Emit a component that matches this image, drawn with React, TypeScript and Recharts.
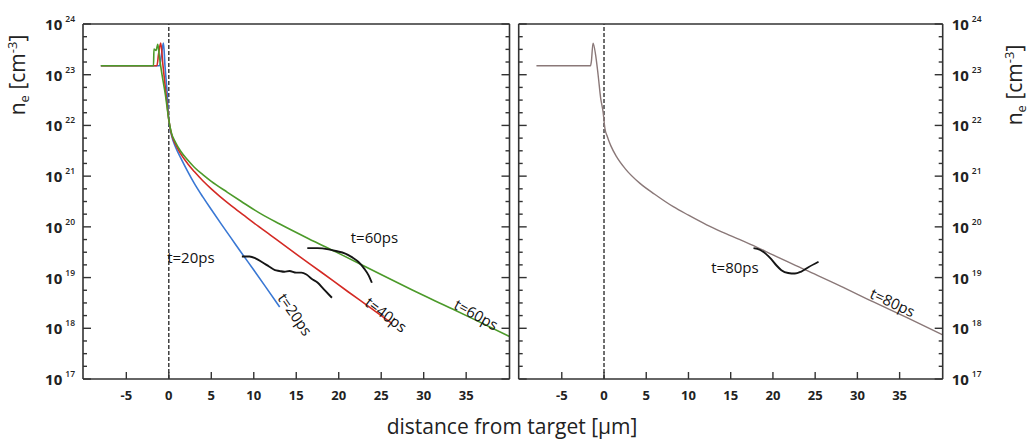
import React from 'react';
import { LineChart, Line, XAxis, YAxis, ReferenceLine, ReferenceDot } from 'recharts';

const X_TICKS = [-5, 0, 5, 10, 15, 20, 25, 30, 35];
const DECADES = [17, 18, 19, 20, 21, 22, 23, 24];
const MINOR_STEPS = [1.78, 3.16, 5.62];

// left panel, t = 20 ps (blue)
const blueX = [-8, -1.1, -0.85, -0.63, -0.45, -0.2, 0, 0.3, 0.8, 1.4, 2.2, 3.0, 4.0, 5.0, 6.2, 7.34, 8.5, 10.0, 11.5, 13.05];
const blueN = [1.5e23, 1.5e23, 2.6e23, 4.2e23, 1.5e23, 4.5e22, 1.29e22, 6.6e21, 3.7e21, 2.3e21, 1.26e21, 7.2e20, 3.9e20, 2.2e20, 1.12e20, 6.0e19, 3.16e19, 1.41e19, 6.2e18, 2.63e18];

// left panel, t = 40 ps (red)
const redX = [-8, -1.4, -1.2, -0.95, -0.7, -0.35, 0, 0.3, 0.8, 1.4, 2.2, 3.0, 4.0, 5.0, 6.0, 7.34, 8.9, 10.0, 12.0, 15.2, 18.0, 21.1, 23.5, 26.3];
const redN = [1.5e23, 1.5e23, 2.6e23, 4.2e23, 1.6e23, 4.5e22, 1.29e22, 6.9e21, 4.2e21, 2.75e21, 1.78e21, 1.23e21, 8.1e20, 5.6e20, 4.0e20, 2.63e20, 1.66e20, 1.2e20, 6.8e19, 2.75e19, 1.26e19, 5.25e18, 2.7e18, 1.23e18];

// left panel, t = 60 ps (green)
const greenX = [-8, -1.8, -1.75, -1.5, -1.3, -1.1, -0.8, -0.4, 0, 0.3, 0.8, 1.4, 2.2, 3.0, 4.0, 5.0, 6.9, 8.5, 10.9, 13.0, 16.4, 20.0, 23.1, 25.1, 28.6, 33.0, 36.0, 40.1];
const greenN = [1.5e23, 1.5e23, 3.2e23, 3.0e23, 4.0e23, 2.2e23, 1.0e23, 4.0e22, 1.29e22, 7.2e21, 4.6e21, 3.1e21, 2.1e21, 1.5e21, 1.07e21, 7.9e20, 4.8e20, 3.2e20, 1.78e20, 1.15e20, 5.9e19, 3.0e19, 1.66e19, 1.12e19, 5.75e18, 2.57e18, 1.48e18, 6.9e17];

// right panel, t = 80 ps
const grayX = [-8, -1.6, -1.5, -1.3, -1.0, -0.7, -0.4, -0.1, 0.1, 0.4, 0.8, 1.5, 2.5, 4.26, 6.0, 8.2, 10.0, 12.15, 14.0, 16.1, 18.07, 20.0, 24.0, 28.0, 31.9, 36.0, 40.1];
const grayN = [1.5e23, 1.5e23, 1.8e23, 4.2e23, 2.5e23, 1.0e23, 3.5e22, 1.8e22, 8.9e21, 6.0e21, 4.0e21, 2.4e21, 1.41e21, 7.2e20, 4.4e20, 2.5e20, 1.7e20, 1.1e20, 7.9e19, 5.6e19, 4.0e19, 2.8e19, 1.38e19, 6.8e18, 3.3e18, 1.58e18, 7.4e17];

// measured profiles (black)
const meas20X = [8.6, 9.5, 10.2, 11.0, 11.8, 12.5, 13.0, 13.6, 14.2, 15.0, 15.6, 16.2, 16.8, 17.5, 18.2, 19.2];
const meas20N = [2.6e19, 2.6e19, 2.4e19, 2.0e19, 1.65e19, 1.4e19, 1.35e19, 1.3e19, 1.35e19, 1.25e19, 1.25e19, 1.15e19, 9.5e18, 8e18, 6e18, 4e18];
const meas60X = [16.3, 17.5, 18.8, 19.8, 20.7, 21.6, 22.3, 23.0, 23.5, 23.9];
const meas60N = [3.8e19, 3.8e19, 3.6e19, 3.3e19, 3.0e19, 2.5e19, 2.05e19, 1.5e19, 1.12e19, 7.9e18];
const meas80X = [17.7, 18.5, 19.2, 19.8, 20.4, 21.0, 21.8, 22.6, 23.3, 24.2, 25.4];
const meas80N = [3.8e19, 3.5e19, 2.9e19, 2.3e19, 1.75e19, 1.4e19, 1.23e19, 1.2e19, 1.3e19, 1.6e19, 2.05e19];

// annotations: text, x, n, angle
const leftNotes: [string, number, number, number][] = [
  ['t=20ps', 2.6, 2.6e19, 0],
  ['t=60ps', 24.2, 6.3e19, 0],
  ['t=20ps', 14.9, 1.9e18, 55],
  ['t=40ps', 25.6, 1.9e18, 37],
  ['t=60ps', 36.2, 1.9e18, 29],
];
const rightNotes: [string, number, number, number][] = [
  ['t=80ps', 15.5, 1.6e19, 0],
  ['t=80ps', 34.2, 3.3e18, 25],
];

const toData = (xs: number[], ns: number[]) => xs.map((x, i) => ({ x, n: ns[i] }));

const Y_TICKS: number[] = [];
DECADES.forEach((d) => {
  Y_TICKS.push(Math.pow(10, d));
  if (d < 24) MINOR_STEPS.forEach((m) => Y_TICKS.push(m * Math.pow(10, d)));
});

const X_DOMAIN = [-10.1, 40.1];
const Y_DOMAIN = [1e17, 1e24];
const FRAME = '#333';
const FONT = '"Open Sans", "DejaVu Sans", sans-serif';

const YTick = (props: any) => {
  const { x, y, payload, side, showLabel } = props;
  const lg = Math.log10(payload.value);
  const e = Math.round(lg);
  const major = Math.abs(lg - e) < 0.01;
  const dir = side === 'left' ? 1 : -1;
  const len = major ? 8 : 4;
  return (
    <g>
      <line x1={x} x2={x + dir * len} y1={y} y2={y} stroke={FRAME} strokeWidth={1.4} />
      {major && showLabel && (
        <text
          x={side === 'left' ? x - 8 : x + 9}
          y={y + 6}
          textAnchor={side === 'left' ? 'end' : 'start'}
          fontSize={15}
          fontWeight={700}
          fill="#222"
          fontFamily={FONT}
        >
          10
          <tspan dx={3} dy={-8} fontSize={8.5} fontWeight={600}>
            {e}
          </tspan>
        </text>
      )}
    </g>
  );
};

const XTick = (props: any) => {
  const { x, y, payload, side, showLabel } = props;
  const dir = side === 'bottom' ? -1 : 1;
  return (
    <g>
      <line x1={x} x2={x} y1={y} y2={y + dir * 7} stroke={FRAME} strokeWidth={1.4} />
      {showLabel && (
        <text x={x} y={y + 21} textAnchor="middle" fontSize={13} fontWeight={700} fill="#222" fontFamily={FONT}>
          {payload.value}
        </text>
      )}
    </g>
  );
};

const noteLabel = (text: string, angle: number) => (p: any) => {
  const vb = p.viewBox || {};
  const cx = vb.x + vb.width / 2;
  const cy = vb.y + vb.height / 2;
  return (
    <text
      x={cx}
      y={cy}
      textAnchor="middle"
      dominantBaseline="central"
      transform={`rotate(${angle} ${cx} ${cy})`}
      fontSize={15}
      fontWeight={500}
      fill="#111"
      fontFamily={FONT}
    >
      {text}
    </text>
  );
};

const Panel = ({ width, margin, labelSide, children, notes }: any) => (
  <LineChart width={width} height={444} margin={margin}>
    <XAxis
      xAxisId="b"
      type="number"
      dataKey="x"
      domain={X_DOMAIN}
      allowDataOverflow
      ticks={X_TICKS}
      interval={0}
      height={1}
      tickSize={0}
      tickMargin={0}
      tickLine={false}
      axisLine={{ stroke: FRAME, strokeWidth: 1.6 }}
      tick={<XTick side="bottom" showLabel />}
    />
    <XAxis
      xAxisId="t"
      orientation="top"
      type="number"
      domain={X_DOMAIN}
      allowDataOverflow
      ticks={X_TICKS}
      interval={0}
      height={1}
      tickSize={0}
      tickMargin={0}
      tickLine={false}
      axisLine={{ stroke: FRAME, strokeWidth: 1.6 }}
      tick={<XTick side="top" />}
    />
    <YAxis
      yAxisId="l"
      scale="log"
      domain={Y_DOMAIN}
      allowDataOverflow
      ticks={Y_TICKS}
      interval={0}
      width={1}
      tickSize={0}
      tickMargin={0}
      tickLine={false}
      axisLine={{ stroke: FRAME, strokeWidth: 1.6 }}
      tick={<YTick side="left" showLabel={labelSide === 'left'} />}
    />
    <YAxis
      yAxisId="r"
      orientation="right"
      scale="log"
      domain={Y_DOMAIN}
      allowDataOverflow
      ticks={Y_TICKS}
      interval={0}
      width={1}
      tickSize={0}
      tickMargin={0}
      tickLine={false}
      axisLine={{ stroke: FRAME, strokeWidth: 1.6 }}
      tick={<YTick side="right" showLabel={labelSide === 'right'} />}
    />
    <ReferenceLine xAxisId="b" yAxisId="l" x={0} stroke="#222" strokeWidth={1.3} strokeDasharray="4 2" />
    {children}
    {notes.map(([text, x, n, angle]: any, i: number) => (
      <ReferenceDot
        key={i}
        xAxisId="b"
        yAxisId="l"
        x={x}
        y={n}
        r={1}
        fill="none"
        stroke="none"
        label={noteLabel(text, angle)}
      />
    ))}
  </LineChart>
);

const series = (key: string, xs: number[], ns: number[], color: string, w: number) => (
  <Line
    key={key}
    xAxisId="b"
    yAxisId="l"
    data={toData(xs, ns)}
    dataKey="n"
    type="monotone"
    stroke={color}
    strokeWidth={w}
    dot={false}
    isAnimationActive={false}
  />
);

const YTitle = ({ x, y }: { x: number; y: number }) => (
  <text transform={`translate(${x},${y}) rotate(-90)`} textAnchor="middle" fontSize={21} fill="#222" fontFamily={FONT}>
    n<tspan dy={4} fontSize={13}>e</tspan>
    <tspan dy={-4}> [cm</tspan>
    <tspan dy={-8} fontSize={13}>-3</tspan>
    <tspan dy={8}>]</tspan>
  </text>
);

export default function App() {
  return (
    <div style={{ position: 'absolute', left: 0, top: 0, width: 1035, height: 444, background: '#fff', fontFamily: FONT }}>
      <div style={{ position: 'absolute', left: 0, top: 0 }}>
        <Panel width={520} margin={{ top: 23, left: 82, right: 9.5, bottom: 64 }} labelSide="left" notes={leftNotes}>
          {series('blue', blueX, blueN, '#3a78d4', 1.6)}
          {series('red', redX, redN, '#d42a24', 1.6)}
          {series('green', greenX, greenN, '#4c9a2a', 1.6)}
          {series('m20', meas20X, meas20N, '#151515', 1.9)}
          {series('m60', meas60X, meas60N, '#151515', 1.9)}
        </Panel>
      </div>
      <div style={{ position: 'absolute', left: 510, top: 0 }}>
        <Panel width={525} margin={{ top: 23, left: 7.7, right: 91.3, bottom: 64 }} labelSide="right" notes={rightNotes}>
          {series('gray', grayX, grayN, '#8a7878', 1.4)}
          {series('m80', meas80X, meas80N, '#151515', 1.9)}
        </Panel>
      </div>
      <svg width={1035} height={444} style={{ position: 'absolute', left: 0, top: 0, pointerEvents: 'none' }}>
        <text x={512} y={434} textAnchor="middle" fontSize={21} fill="#222" fontFamily={FONT}>
          distance from target [μm]
        </text>
        <YTitle x={25} y={75} />
        <YTitle x={1022} y={85} />
      </svg>
    </div>
  );
}
